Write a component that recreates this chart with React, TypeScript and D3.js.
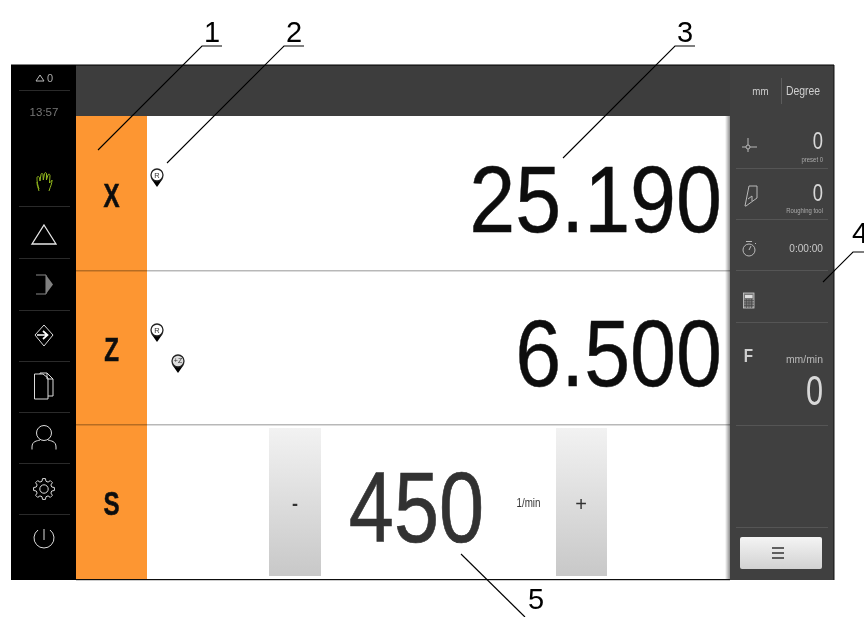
import React from "react";
import * as d3 from "d3";

const axes = ["X", "Z", "S"];
const rowEdges = [116, 271, 425, 579];
const axisValues = ["25.190", "6.500"];
const spindleValue = "450";
const spindleUnit = "1/min";
const navSeparators = [90, 206, 258, 310, 361, 412, 463, 514];
const panelSeparators = [116, 168, 219, 270, 322, 425, 527];
const callouts = [
  { label: "1", x: [98, 202, 222], y: [150, 46, 46], tx: 212, ty: 42 },
  { label: "2", x: [167, 284, 304], y: [163, 46, 46], tx: 294, ty: 42 },
  { label: "3", x: [563, 675, 695], y: [158, 46, 46], tx: 685, ty: 42 },
  { label: "4", x: [823, 853, 864], y: [282, 252, 252], tx: 860, ty: 243 },
  { label: "5", x: [461, 525, 525], y: [554, 617, 617], tx: 536, ty: 609 },
];

const FONT = "'Liberation Sans', Arial, sans-serif";
const line = d3.line<[number, number]>();

function Pin({ x, y, text, small }: { x: number; y: number; text: string; small?: boolean }) {
  return (
    <g transform={`translate(${x},${y})`}>
      <path d="M-6,3.500 L0,12 L6,3.500 Z" fill="#000" />
      <circle cx={0} cy={0} r={6} fill={small ? "#ddd" : "#fff"} stroke="#222" strokeWidth={1.3} />
      <text x={0} y={small ? 2.300 : 2.700} textAnchor="middle" fontSize={small ? 7 : 7.500} fontFamily={FONT} fill="#333">{text}</text>
    </g>
  );
}

function Big({ x, y, size, sx, fill, w, children }: any) {
  return (
    <text transform={`translate(${x},${y}) scale(${sx},1)`} textAnchor="end" fontSize={size} fontFamily={FONT} fill={fill} stroke={fill} strokeWidth={w}>
      {children}
    </text>
  );
}

function gearPath(cx: number, cy: number, rIn: number, rOut: number, teeth: number) {
  const pts: [number, number][] = [];
  const step = (2 * Math.PI) / teeth;
  for (let i = 0; i < teeth; i++) {
    const a = i * step;
    pts.push([a - step * 0.32, rIn], [a - step * 0.18, rOut], [a + step * 0.18, rOut], [a + step * 0.32, rIn]);
  }
  const rad = d3.lineRadial<[number, number]>().curve(d3.curveLinearClosed);
  return `translate(${cx},${cy})|${rad(pts)}`;
}

function NavIcons() {
  const s = { fill: "none", stroke: "#dcdcdc", strokeWidth: 1 } as const;
  const [gT, gD] = gearPath(44, 489, 8, 10.500, 8).split("|");
  return (
    <g>
      <path d="M39,189 C37,183 37,180 37,178 C37,176 39,176 39.500,178 L40,181 L41,174.500 C41.300,173 43,173 43,175 L43.300,180 L44.500,173.500 C45,172 46.500,172.500 46.500,174 L46.400,180 L48,175 C48.500,173.500 50,174 50,175.500 L49.500,183 C50.500,182 52,180.500 52,180 C52,184 50.500,186 49,191 M37,182 C37,186 38,187 39,191" fill="none" stroke="#93b81c" strokeWidth={1} />
      <path d="M44,225 L56,244 L32,244 Z" fill="none" stroke="#e6e6e6" strokeWidth={1.300} />
      <path d="M36,275 L46,275 L46,294 L36,294" fill="none" stroke="#888" strokeWidth={1} />
      <path d="M46,275 L53,284.500 L46,294 Z" fill="#808080" />
      <path d="M44,325 L53,335 L44,346 L35,335 Z" {...s} />
      <path d="M37,335 L47,335 M43,331 L47.500,335 L43,339" fill="none" stroke="#fff" strokeWidth={1.700} />
      <path d="M34.500,374 L34.500,399 L48,399 L48,378 L43,374 Z" {...s} />
      <path d="M40,374 L40,373 L47,373 L53,379 L53,396 L48,396 M47,373 L47,379 L53,379" {...s} />
      <circle cx={44} cy={433} r={7.500} {...s} />
      <path d="M32,449.500 L32,447 C32,441 37,441 40,440 M56,449.500 L56,447 C56,441 51,441 48,440" {...s} />
      <circle cx={44} cy={489} r={4.200} {...s} />
      <path transform={gT} d={gD ?? ""} {...s} />
      <path d="M38,530 A10,10 0 1,0 50,530" {...s} />
      <path d="M44,529 L44,540" {...s} />
    </g>
  );
}

function PanelIcons() {
  const s = { fill: "none", stroke: "#b8b8b8", strokeWidth: 1 } as const;
  return (
    <g>
      <path d="M748,138 L748,152 M742,147 L757,147" {...s} />
      <circle cx={748} cy={147} r={2} fill="#414141" stroke="#b8b8b8" strokeWidth={1} />
      <path d="M749,186 L757,186 L757,198 L746,206 L745,206 Z M748,199 L752,196 L752,201" {...s} />
      <circle cx={749} cy={250} r={6} {...s} />
      <path d="M746,241.500 L752,241.500 M749,250 L751,246 M755,243 L756,244" {...s} />
      <rect x={743.500} y={293} width={10.500} height={15} fill="#777" stroke="#ccc" strokeWidth={0.8} />
      <rect x={745} y={295} width={7.500} height={3} fill="#ddd" />
      <path d="M744,300.500 H754 M744,303 H754 M744,305.500 H754 M746.500,299 V308 M749,299 V308 M751.500,299 V308" stroke="#444" strokeWidth={0.6} />
    </g>
  );
}

export default function App() {
  const rowY = d3.scaleOrdinal<string, number>().domain(axes).range(rowEdges.slice(0, 3));
  const rowH = (i: number) => rowEdges[i + 1] - rowEdges[i];
  return (
    <svg width={864} height={617} style={{ position: "absolute", left: 0, top: 0 }} fontFamily={FONT}>
      <defs>
        <linearGradient id="btn" x1="0" y1="0" x2="0" y2="1">
          <stop offset="0" stopColor="#f2f2f2" />
          <stop offset="1" stopColor="#c8c8c8" />
        </linearGradient>
        <linearGradient id="btn2" x1="0" y1="0" x2="0" y2="1">
          <stop offset="0" stopColor="#f4f4f4" />
          <stop offset="1" stopColor="#d2d2d2" />
        </linearGradient>
        <linearGradient id="shade" x1="0" y1="0" x2="1" y2="0">
          <stop offset="0" stopColor="#000" stopOpacity={0} />
          <stop offset="1" stopColor="#000" stopOpacity={0.45} />
        </linearGradient>
        <filter id="soft" x="0" y="0" width="100%" height="100%">
          <feGaussianBlur stdDeviation={0.35} />
        </filter>
      </defs>
      <rect width={864} height={617} fill="#fff" />
      <g filter="url(#soft)">
        <rect x={11} y={65} width={65} height={515} fill="#000" />
        <rect x={76} y={65} width={655} height={51} fill="#3e3e3e" />
        <rect x={730} y={65} width={104} height={515} fill="#414141" />
        <rect x={11} y={64.500} width={823} height={1} fill="#000" />
        <rect x={76} y={116} width={654} height={463} fill="#fff" />
        <rect x={76} y={116} width={71} height={463} fill="#fd9630" />
        <rect x={76} y={579} width={654} height={1.200} fill="#111" />
        <rect x={833.500} y={65} width={1} height={515} fill="#111" />
        <rect x={725} y={116} width={5} height={463} fill="url(#shade)" />

        {axes.map((a, i) => (
          <g key={a}>
            <text x={111.500} y={(rowY(a) as number) + rowH(i) / 2 + 13.500} textAnchor="middle" fontSize={33} fontWeight="bold" fill="#111" stroke="#111" strokeWidth={0.6}
              transform="translate(111.500,0) scale(0.73,1) translate(-111.500,0)">{a}</text>
            {i < 2 && <rect x={76} y={rowEdges[i + 1] - 1} width={654} height={1.500} fill="#000" opacity={0.28} />}
          </g>
        ))}

        <Big x={722} y={232} size={95} sx={0.87} fill="#111" w={0.4}>{axisValues[0]}</Big>
        <Big x={722} y={386} size={95} sx={0.87} fill="#111" w={0.4}>{axisValues[1]}</Big>

        <Pin x={157} y={175} text="R" />
        <Pin x={157} y={330} text="R" />
        <Pin x={178} y={361} text="+Z" small />

        <rect x={269} y={428} width={52} height={148} fill="url(#btn)" />
        <rect x={556} y={428} width={51} height={148} fill="url(#btn)" />
        <text x={295} y={510} textAnchor="middle" fontSize={18} fontWeight="bold" fill="#333">-</text>
        <text x={581} y={511} textAnchor="middle" fontSize={20} fill="#333">+</text>
        <Big x={484} y={542} size={100} sx={0.81} fill="#333" w={0.7}>{spindleValue}</Big>
        <text x={528.500} y={507} textAnchor="middle" fontSize={12} fill="#333" transform="translate(528.500,0) scale(0.82,1) translate(-528.500,0)">{spindleUnit}</text>

        <path d="M36,81 L40,75 L44,81 Z" fill="none" stroke="#bbb" strokeWidth={1} />
        <text x={47} y={82} fontSize={11} fill="#aaa">0</text>
        <text x={44} y={116} textAnchor="middle" fontSize={11.500} fill="#777">13:57</text>
        {navSeparators.map(y => <rect key={y} x={19} y={y} width={51} height={1} fill="#2a2a2a" />)}
        <NavIcons />

        {panelSeparators.slice(1).map(y => <rect key={y} x={736} y={y} width={92} height={1} fill="#555" />)}
        <rect x={781} y={78} width={1} height={26} fill="#5c5c5c" />
        <text x={760.500} y={95} textAnchor="middle" fontSize={11.500} fill="#cfcfcf" transform="translate(760.500,0) scale(0.85,1) translate(-760.500,0)">mm</text>
        <text x={803} y={95} textAnchor="middle" fontSize={12} fill="#cfcfcf" transform="translate(803,0) scale(0.87,1) translate(-803,0)">Degree</text>
        <text x={823} y={149} textAnchor="end" fontSize={23} fill="#d8d8d8" transform="translate(823,0) scale(0.8,1) translate(-823,0)">0</text>
        <text x={823} y={162} textAnchor="end" fontSize={7} fill="#aaa" transform="translate(823,0) scale(0.85,1) translate(-823,0)">preset 0</text>
        <text x={823} y={201} textAnchor="end" fontSize={23} fill="#d8d8d8" transform="translate(823,0) scale(0.8,1) translate(-823,0)">0</text>
        <text x={823} y={213} textAnchor="end" fontSize={7} fill="#aaa" transform="translate(823,0) scale(0.85,1) translate(-823,0)">Roughing tool</text>
        <text x={823} y={252} textAnchor="end" fontSize={11} fill="#c8c8c8" transform="translate(823,0) scale(0.92,1) translate(-823,0)">0:00:00</text>
        <text x={748.500} y={362} textAnchor="middle" fontSize={19} fontWeight="bold" fill="#cfcfcf" transform="translate(748.500,0) scale(0.8,1) translate(-748.500,0)">F</text>
        <text x={823} y={363} textAnchor="end" fontSize={11} fill="#b8b8b8" transform="translate(823,0) scale(0.95,1) translate(-823,0)">mm/min</text>
        <text x={823} y={405} textAnchor="end" fontSize={42} fill="#d8d8d8" transform="translate(823,0) scale(0.73,1) translate(-823,0)">0</text>
        <PanelIcons />
        <rect x={740} y={537} width={82} height={32} rx={2} fill="url(#btn2)" />
        <path d="M772,548 H784 M772,553 H784 M772,558 H784" stroke="#333" strokeWidth={1.300} />

        {callouts.map(c => (
          <g key={c.label}>
            <path d={line(c.x.map((x, i) => [x, c.y[i]] as [number, number])) ?? ""} fill="none" stroke="#000" strokeWidth={1.100} />
            <text x={c.tx} y={c.ty} textAnchor="middle" fontSize={29} fill="#000">{c.label}</text>
          </g>
        ))}
      </g>
    </svg>
  );
}
